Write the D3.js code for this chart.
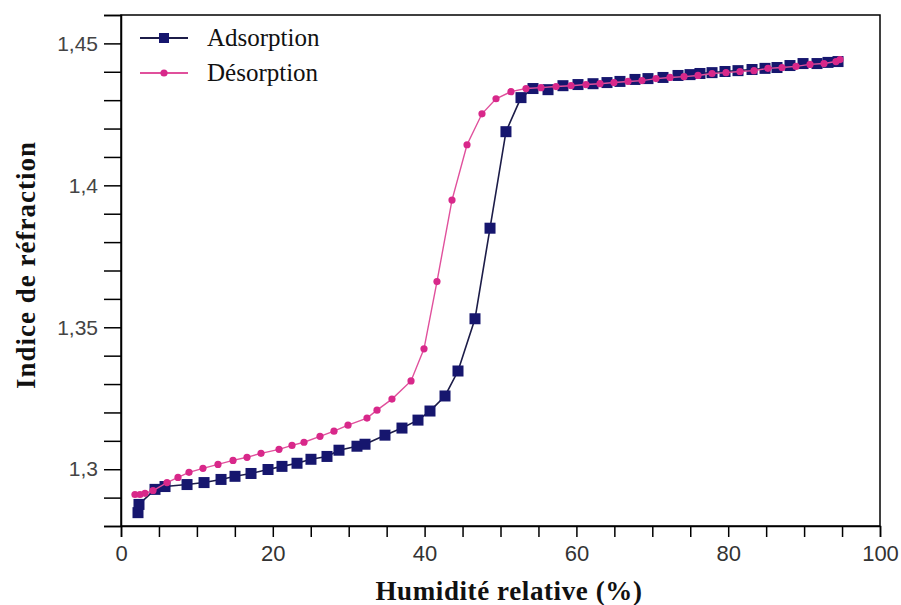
<!DOCTYPE html>
<html>
<head>
<meta charset="utf-8">
<script src="https://cdn.jsdelivr.net/npm/d3@7/dist/d3.min.js"></script>
<style>
  html, body { margin: 0; padding: 0; background: #fff; }
  svg { display: block; }
</style>
</head>
<body>
<svg id="chart" width="901" height="605"></svg>
<script>
// Adsorption branch: relative humidity (%) and refractive index
const adsX = [2.24, 2.37, 4.48, 5.80, 8.70, 10.94, 13.18, 15.02, 17.13, 19.37, 21.21, 23.19, 25.03, 27.14,
  28.72, 31.09, 32.15, 34.78, 37.02, 39.13, 40.71, 42.69, 44.40, 46.64, 48.62, 50.72, 52.70, 54.28,
  56.26, 58.23, 60.21, 62.19, 64.03, 65.74, 67.72, 69.43, 71.41, 73.39, 74.97, 76.28, 77.87, 79.58,
  81.29, 83.14, 84.85, 86.43, 88.14, 89.86, 91.70, 93.15, 94.47];
const adsY = [1.2847, 1.2876, 1.2929, 1.2939, 1.2946, 1.2953, 1.2964, 1.2975, 1.2985, 1.2999, 1.3010, 1.3021,
  1.3035, 1.3045, 1.3067, 1.3081, 1.3088, 1.3120, 1.3145, 1.3173, 1.3205, 1.3258, 1.3346, 1.3530,
  1.3849, 1.4189, 1.4309, 1.4341, 1.4337, 1.4351, 1.4355, 1.4358, 1.4362, 1.4366, 1.4373, 1.4376,
  1.4380, 1.4387, 1.4390, 1.4394, 1.4397, 1.4401, 1.4404, 1.4408, 1.4412, 1.4415, 1.4422, 1.4429,
  1.4429, 1.4433, 1.4436];

// Desorption branch
const desX = [1.84, 2.50, 3.16, 4.22, 6.06, 7.51, 8.96, 10.80, 12.78, 14.76, 16.60, 18.45, 20.82, 22.53,
  24.11, 26.22, 28.06, 29.91, 32.41, 33.73, 35.70, 38.21, 39.92, 41.63, 43.61, 45.59, 47.56, 49.41,
  51.38, 53.36, 55.34, 57.31, 59.29, 61.26, 63.11, 64.95, 66.80, 68.64, 70.49, 72.33, 74.18, 76.02,
  77.87, 79.71, 81.55, 83.40, 85.24, 87.09, 88.93, 90.78, 92.62, 94.20, 94.73];
const desY = [1.2911, 1.2911, 1.2915, 1.2925, 1.2953, 1.2971, 1.2989, 1.3003, 1.3017, 1.3031, 1.3042, 1.3056,
  1.3070, 1.3084, 1.3095, 1.3116, 1.3134, 1.3155, 1.3180, 1.3208, 1.3247, 1.3311, 1.3424, 1.3661,
  1.3948, 1.4143, 1.4252, 1.4305, 1.4330, 1.4341, 1.4344, 1.4348, 1.4351, 1.4355, 1.4358, 1.4362,
  1.4366, 1.4369, 1.4376, 1.4380, 1.4383, 1.4387, 1.4394, 1.4397, 1.4401, 1.4404, 1.4412, 1.4415,
  1.4419, 1.4426, 1.4429, 1.4436, 1.4443];

const xMajorTicks = [0, 20, 40, 60, 80, 100];
const yMajorTicks = [1.3, 1.35, 1.4, 1.45];
const yTickLabels = ["1,3", "1,35", "1,4", "1,45"];
const seriesNames = ["Adsorption", "Désorption"];

const svg = d3.select("#chart");
const plot = { left: 121, right: 880, top: 15, bottom: 526 };

const x = d3.scaleLinear().domain([0, 100]).range([plot.left, plot.right]);
const y = d3.scaleLinear().domain([1.28, 1.46]).range([plot.bottom, plot.top]);

const adsColor = "#16166e", adsLine = "#1c1c48";
const desColor = "#d8288a", desLine = "#e0509c";

// frame
svg.append("rect")
  .attr("x", plot.left).attr("y", plot.top)
  .attr("width", plot.right - plot.left).attr("height", plot.bottom - plot.top)
  .attr("fill", "none").attr("stroke", "#000").attr("stroke-width", 1.5);

// x axis: minor ticks every 5, labels every 20
const xAxis = d3.axisBottom(x)
  .tickValues(d3.range(0, 101, 5))
  .tickSize(11)
  .tickFormat(d => xMajorTicks.includes(d) ? d3.format("d")(d) : "");
const gx = svg.append("g").attr("transform", `translate(0,${plot.bottom})`).call(xAxis);
gx.select(".domain").attr("stroke-width", 1.5);
gx.selectAll(".tick line").attr("stroke-width", 1.5);
gx.selectAll(".tick text")
  .attr("dy", 0).attr("y", 35)
  .attr("font-family", "'Liberation Sans Narrow', 'Liberation Sans', Arial, sans-serif")
  .attr("font-size", 22).attr("fill", "#333");

// y axis: minor ticks every 0.01
const yAxis = d3.axisLeft(y)
  .tickValues(d3.range(128, 147, 1).map(v => v / 100))
  .tickSize(17)
  .tickFormat(d => {
    const i = yMajorTicks.findIndex(v => Math.abs(v - d) < 1e-9);
    return i >= 0 ? yTickLabels[i] : "";
  });
const gy = svg.append("g").attr("transform", `translate(${plot.left},0)`).call(yAxis);
gy.select(".domain").attr("stroke-width", 1.5);
gy.selectAll(".tick line").attr("stroke-width", 1.5);
gy.selectAll(".tick text")
  .attr("x", -23)
  .attr("font-family", "'Liberation Sans', Arial, sans-serif")
  .attr("font-size", 21).attr("fill", "#444");

// axis titles
svg.append("text")
  .attr("x", 509).attr("y", 600)
  .attr("text-anchor", "middle")
  .attr("font-family", "'Liberation Serif', 'Times New Roman', serif")
  .attr("font-weight", "bold").attr("font-size", 27)
  .attr("letter-spacing", 0.6)
  .attr("fill", "#111")
  .text("Humidité relative (%)");

svg.append("text")
  .attr("transform", `translate(35,${265}) rotate(-90)`)
  .attr("text-anchor", "middle")
  .attr("font-family", "'Liberation Serif', 'Times New Roman', serif")
  .attr("font-weight", "bold").attr("font-size", 27)
  .attr("letter-spacing", 1)
  .attr("fill", "#111")
  .text("Indice de réfraction");

const line = d3.line().x(d => x(d[0])).y(d => y(d[1]));
const adsData = adsX.map((v, i) => [v, adsY[i]]);
const desData = desX.map((v, i) => [v, desY[i]]);

// adsorption curve with square markers
svg.append("path").datum(adsData)
  .attr("d", line).attr("fill", "none")
  .attr("stroke", adsLine).attr("stroke-width", 1.6);
svg.append("g").selectAll("rect").data(adsData).join("rect")
  .attr("x", d => x(d[0]) - 5.5).attr("y", d => y(d[1]) - 5.5)
  .attr("width", 11).attr("height", 11)
  .attr("fill", adsColor);

// desorption curve with round markers
svg.append("path").datum(desData)
  .attr("d", line).attr("fill", "none")
  .attr("stroke", desLine).attr("stroke-width", 1.4);
svg.append("g").selectAll("circle").data(desData).join("circle")
  .attr("cx", d => x(d[0])).attr("cy", d => y(d[1]))
  .attr("r", 3.6).attr("fill", desColor);

// legend
const legend = svg.append("g");
const legendRows = [
  { name: seriesNames[0], color: adsColor, lineColor: adsLine, shape: "square", yPos: 38 },
  { name: seriesNames[1], color: desColor, lineColor: desLine, shape: "circle", yPos: 73 }
];
legendRows.forEach(r => {
  legend.append("line")
    .attr("x1", 140).attr("x2", 188).attr("y1", r.yPos).attr("y2", r.yPos)
    .attr("stroke", r.lineColor).attr("stroke-width", 1.8);
  if (r.shape === "square") {
    legend.append("rect").attr("x", 159).attr("y", r.yPos - 5)
      .attr("width", 10).attr("height", 10).attr("fill", r.color);
  } else {
    legend.append("circle").attr("cx", 164).attr("cy", r.yPos).attr("r", 3.6).attr("fill", r.color);
  }
  legend.append("text")
    .attr("x", 207).attr("y", r.yPos + 8)
    .attr("font-family", "'Liberation Serif', 'Times New Roman', serif")
    .attr("font-size", 25).attr("fill", "#111")
    .text(r.name);
});
</script>
</body>
</html>
